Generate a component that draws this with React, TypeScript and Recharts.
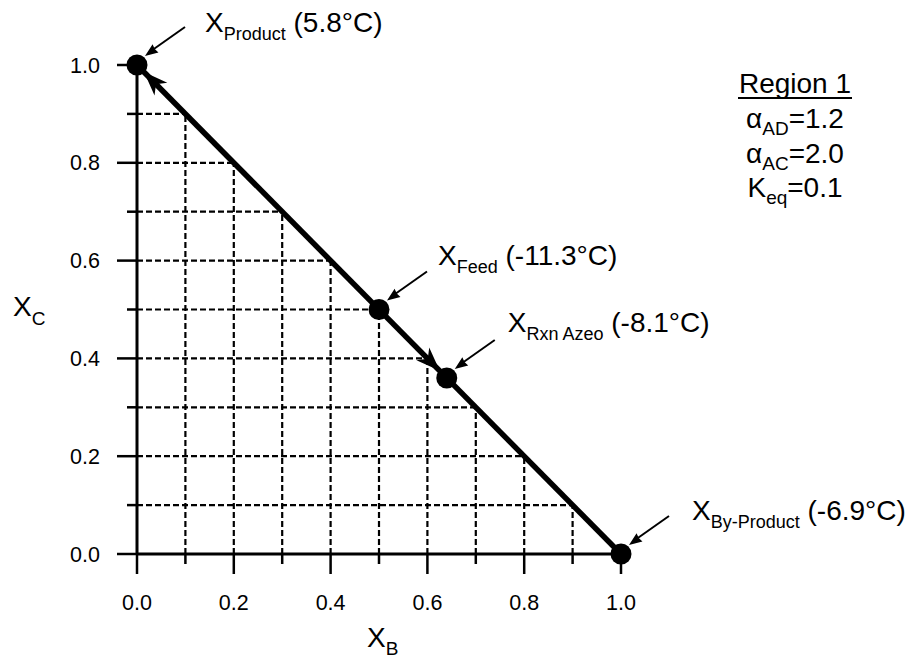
import { ScatterChart, Scatter, XAxis, YAxis, ReferenceLine, Label, Customized } from "recharts";

// composition points on the X_B / X_C diagram
const pointNames = ["Product", "Feed", "Rxn Azeo", "By-Product"];
const xB = [0, 0.5, 0.64, 1];
const xC = [1, 0.5, 0.36, 0];
const boilingPoints = ["5.8°C", "-11.3°C", "-8.1°C", "-6.9°C"];

const axisTicks = [0, 0.1, 0.2, 0.3, 0.4, 0.5, 0.6, 0.7, 0.8, 0.9, 1.0];
const gridLevels = [0.1, 0.2, 0.3, 0.4, 0.5, 0.6, 0.7, 0.8, 0.9];

// feed -> product, feed -> reactive azeotrope
const arrowFrom = [1, 1];
const arrowTo = [0, 2];

const regionTitle = "Region 1";
const paramSymbols = ["α", "α", "K"];
const paramSubs = ["AD", "AC", "eq"];
const paramValues = ["1.2", "2.0", "0.1"];

const FONT = "'Liberation Sans', Arial, Helvetica, sans-serif";
const INK = "#000";

// where each annotation text sits relative to its dot
const LABEL_OFFSET: Record<string, [number, number]> = {
  Product: [68, -33],
  Feed: [59, -45],
  "Rxn Azeo": [61, -46],
  "By-Product": [71, -34],
};

const points = pointNames.map((name, i) => ({ name, xB: xB[i], xC: xC[i], temp: boilingPoints[i] }));

function arrowPoints(x1: number, y1: number, x2: number, y2: number, back: number, len: number, half: number, notch: number) {
  const d = Math.hypot(x2 - x1, y2 - y1) || 1;
  const ux = (x2 - x1) / d;
  const uy = (y2 - y1) / d;
  const tx = x2 - ux * back;
  const ty = y2 - uy * back;
  const bx = tx - ux * len;
  const by = ty - uy * len;
  const nx = tx - ux * notch;
  const ny = ty - uy * notch;
  const px = -uy;
  const py = ux;
  return [
    [tx, ty],
    [bx + px * half, by + py * half],
    [nx, ny],
    [bx - px * half, by - py * half],
  ]
    .map((p) => p.join(","))
    .join(" ");
}

function MainArrowHead(props: any) {
  const { x1, y1, x2, y2 } = props;
  return <polygon points={arrowPoints(x1, y1, x2, y2, 10, 24, 9, 17)} fill={INK} />;
}

function PointMarker(props: any) {
  const { cx, cy, payload } = props;
  const [lx, ly] = LABEL_OFFSET[payload.name] ?? [60, -40];
  const tailX = cx + 48;
  const tailY = cy - 38;
  const headX = cx + 8;
  const headY = cy - 9;
  return (
    <g>
      <circle cx={cx} cy={cy} r={10.5} fill={INK} />
      <line x1={tailX} y1={tailY} x2={headX + 6} y2={headY - 5} stroke={INK} strokeWidth={2} />
      <polygon points={arrowPoints(tailX, tailY, headX, headY, 0, 13, 5, 12)} fill={INK} />
      <text x={cx + lx} y={cy + ly} fontFamily={FONT} fontSize={28} fill={INK}>
        X
        <tspan dy={8} fontSize={18}>
          {payload.name}
        </tspan>
        <tspan dy={-8} fontSize={28}>
          {" (" + payload.temp + ")"}
        </tspan>
      </text>
    </g>
  );
}

function XTick(props: any) {
  const { x, y, payload } = props;
  const major = Math.round(payload.value * 10) % 2 === 0;
  return (
    <g>
      <line x1={x} x2={x} y1={y - 1} y2={y + (major ? 20 : 10)} stroke={INK} strokeWidth={2.5} />
      {major && (
        <text x={x} y={y + 56} textAnchor="middle" fontFamily={FONT} fontSize={21.5} fill={INK}>
          {payload.value.toFixed(1)}
        </text>
      )}
    </g>
  );
}

function YTick(props: any) {
  const { x, y, payload } = props;
  const major = Math.round(payload.value * 10) % 2 === 0;
  return (
    <g>
      <line x1={x - (major ? 20 : 10)} x2={x + 1} y1={y} y2={y} stroke={INK} strokeWidth={2.5} />
      {major && (
        <text x={x - 37} y={y + 7.5} textAnchor="end" fontFamily={FONT} fontSize={21.5} fill={INK}>
          {payload.value.toFixed(1)}
        </text>
      )}
    </g>
  );
}

function XTitle(props: any) {
  const { viewBox } = props;
  return (
    <text x={viewBox.x + viewBox.width / 2 - 12} y={viewBox.y + 93} fontFamily={FONT} fontSize={28} fill={INK}>
      X
      <tspan dy={8} fontSize={19}>
        B
      </tspan>
    </text>
  );
}

function YTitle(props: any) {
  const { viewBox } = props;
  return (
    <text x={viewBox.x} y={viewBox.y + viewBox.height / 2 + 6} fontFamily={FONT} fontSize={28} fill={INK}>
      X
      <tspan dy={9} fontSize={19}>
        C
      </tspan>
    </text>
  );
}

function RegionNote() {
  const cx = 795;
  return (
    <g fontFamily={FONT} fill={INK}>
      <text x={cx} y={93} textAnchor="middle" fontSize={28}>
        {regionTitle}
      </text>
      <line x1={cx - 57} x2={cx + 57} y1={98} y2={98} stroke={INK} strokeWidth={2} />
      {paramSymbols.map((sym, i) => (
        <text key={i} x={cx} y={128 + i * 34.5} textAnchor="middle" fontSize={28}>
          {sym}
          <tspan dy={7} fontSize={19}>
            {paramSubs[i]}
          </tspan>
          <tspan dy={-7}>{"=" + paramValues[i]}</tspan>
        </text>
      ))}
    </g>
  );
}

export default function App() {
  return (
    <div style={{ position: "absolute", left: 0, top: 0, width: 924, height: 660, background: "#fff" }}>
      <ScatterChart width={924} height={660} margin={{ top: 65, right: 303, bottom: 6, left: 13 }}>
        <XAxis
          type="number"
          dataKey="xB"
          domain={[0, 1]}
          ticks={axisTicks}
          interval={0}
          tickSize={0}
          tickMargin={0}
          tick={<XTick />}
          height={100}
          axisLine={{ stroke: INK, strokeWidth: 3 }}
          tickLine={false}
        >
          <Label content={<XTitle />} />
        </XAxis>
        <YAxis
          type="number"
          dataKey="xC"
          domain={[0, 1]}
          ticks={axisTicks}
          interval={0}
          tickSize={0}
          tickMargin={0}
          tick={<YTick />}
          width={124}
          axisLine={{ stroke: INK, strokeWidth: 3 }}
          tickLine={false}
        >
          <Label content={<YTitle />} />
        </YAxis>

        {gridLevels.map((v) => (
          <ReferenceLine
            key={"h" + v}
            segment={[
              { x: 0, y: v },
              { x: 1 - v, y: v },
            ]}
            stroke={INK}
            strokeWidth={2.2}
            strokeDasharray="6 3"
          />
        ))}
        {gridLevels.map((v) => (
          <ReferenceLine
            key={"v" + v}
            segment={[
              { x: v, y: 0 },
              { x: v, y: 1 - v },
            ]}
            stroke={INK}
            strokeWidth={2.2}
            strokeDasharray="6 3"
          />
        ))}

        <ReferenceLine
          segment={[
            { x: xB[0], y: xC[0] },
            { x: xB[3], y: xC[3] },
          ]}
          stroke={INK}
          strokeWidth={5.5}
        />
        {arrowFrom.map((from, i) => (
          <ReferenceLine
            key={"a" + i}
            segment={[
              { x: xB[from], y: xC[from] },
              { x: xB[arrowTo[i]], y: xC[arrowTo[i]] },
            ]}
            shape={(p: any) => <MainArrowHead {...p} />}
          />
        ))}

        <Scatter data={points} isAnimationActive={false} shape={(p: any) => <PointMarker {...p} />} />
        <Customized component={<RegionNote />} />
      </ScatterChart>
    </div>
  );
}
